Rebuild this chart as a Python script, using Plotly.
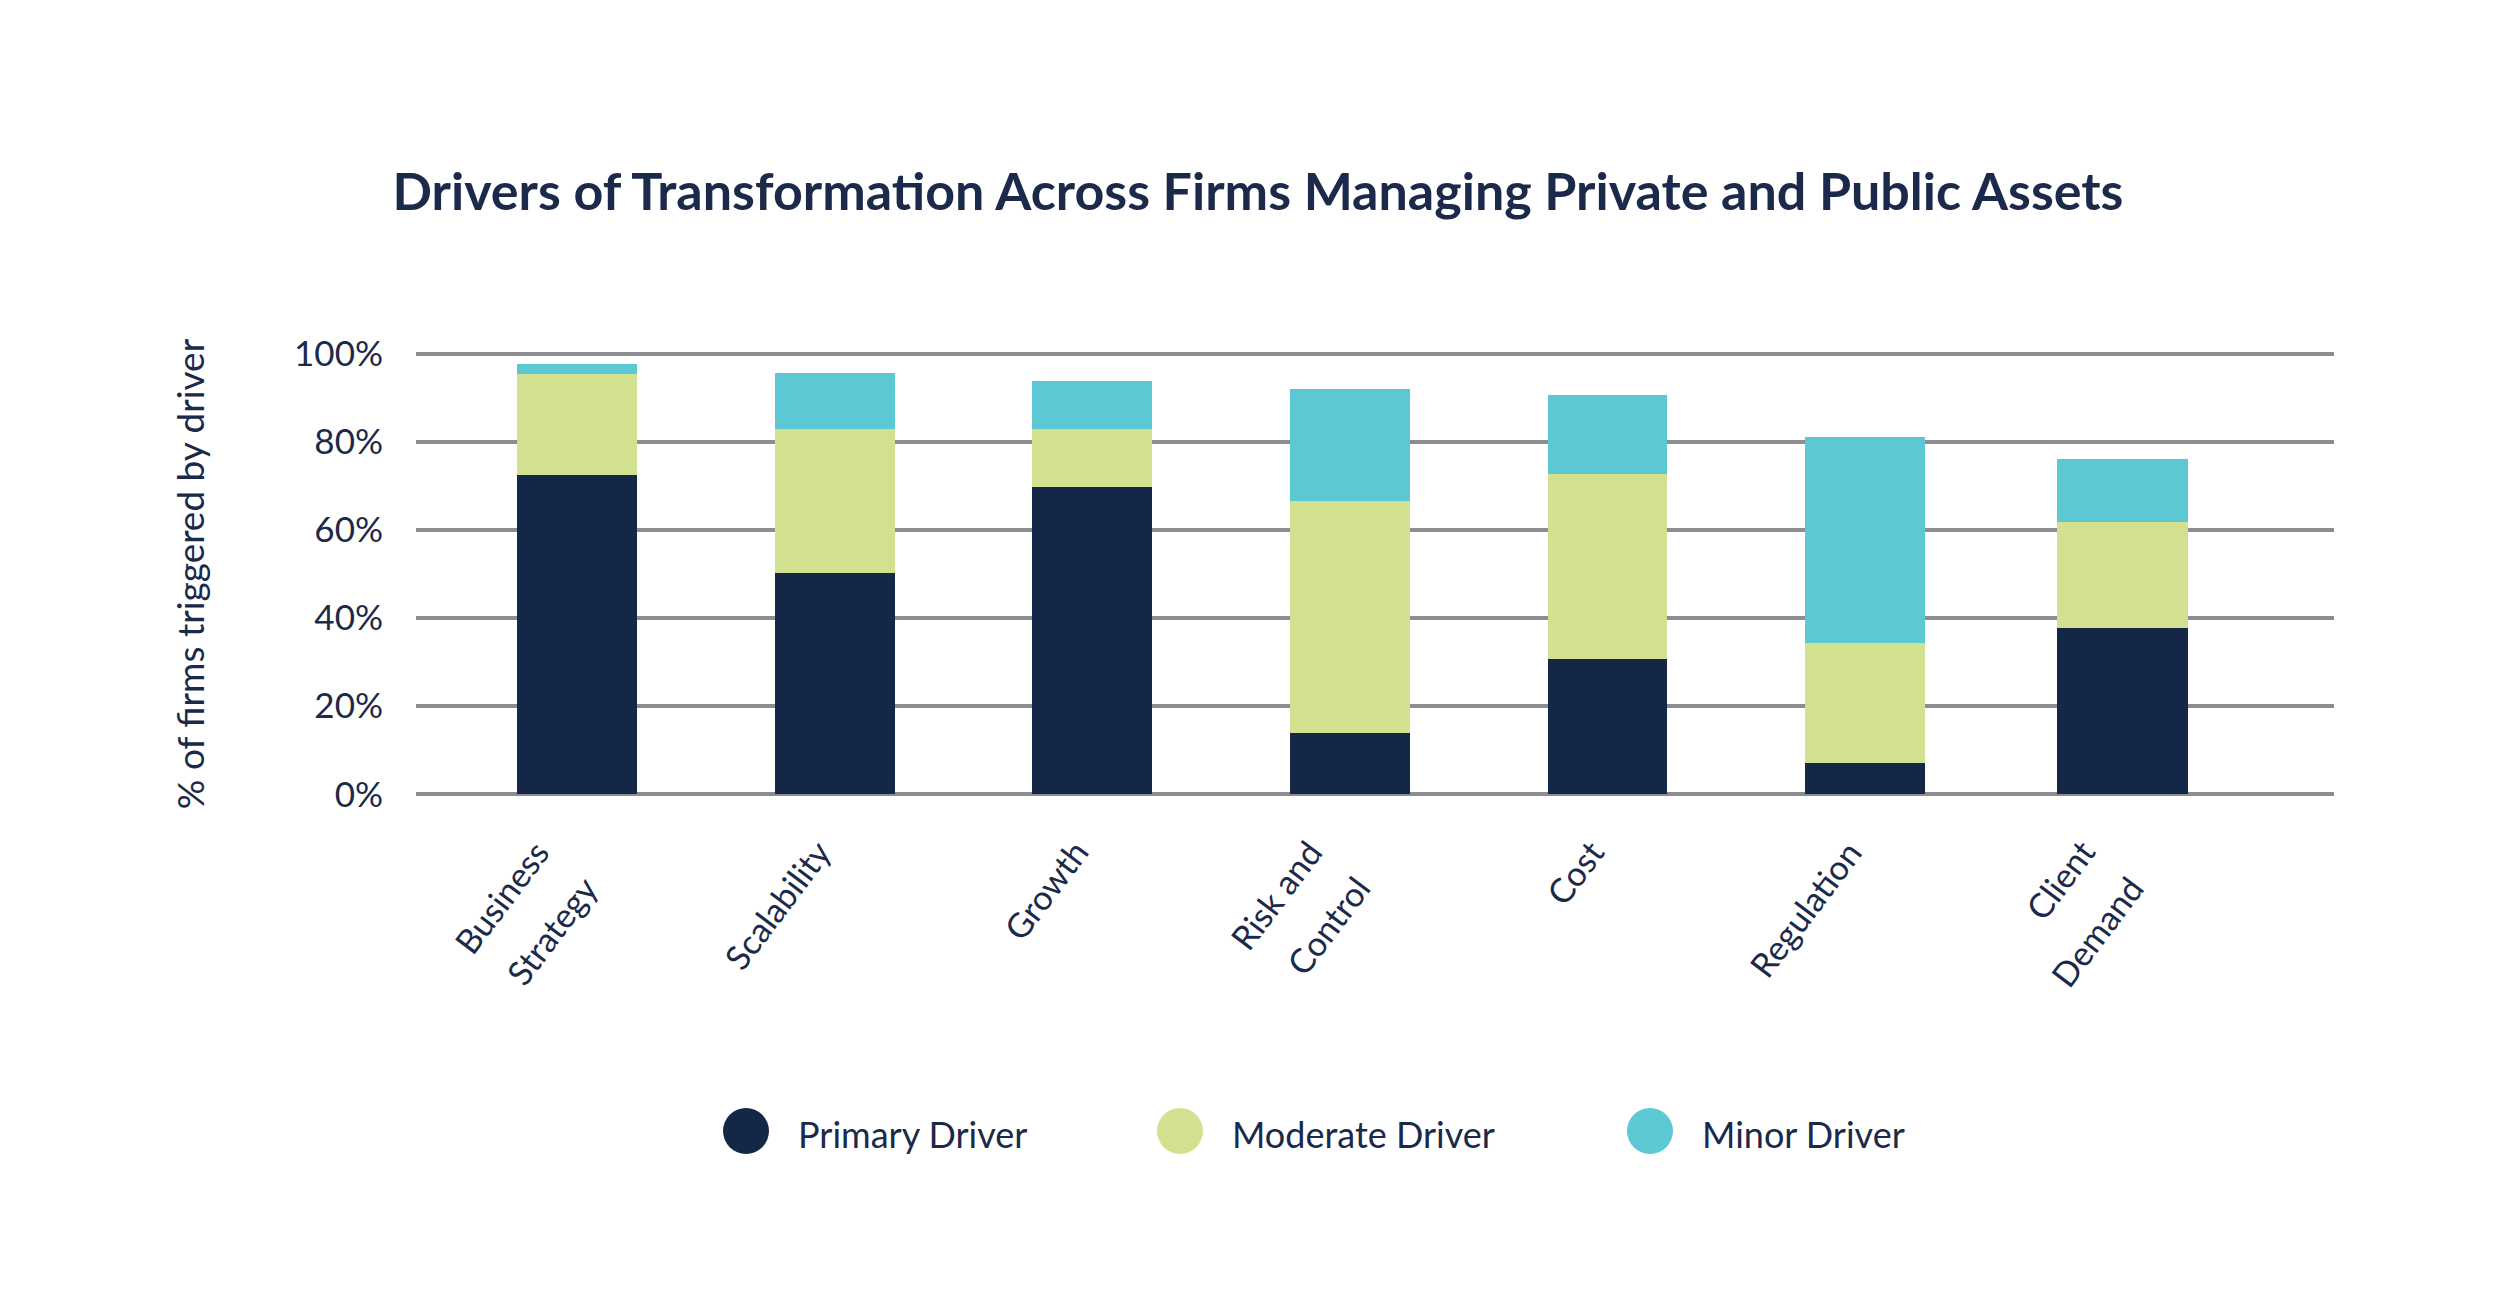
import math
import plotly.graph_objects as go

# ---- data ----
categories = ["Business\nStrategy", "Scalability", "Growth", "Risk and\nControl",
              "Cost", "Regulation", "Client\nDemand"]
primary_cum = [72.4, 50.2, 69.8, 14.0, 30.7, 7.0, 37.7]
moderate_cum = [95.4, 83.0, 83.0, 66.6, 72.8, 34.3, 61.7]
minor_cum = [97.7, 95.7, 93.9, 92.1, 90.7, 81.1, 76.1]

primary = primary_cum
moderate = [round(m - p, 1) for m, p in zip(moderate_cum, primary_cum)]
minor = [round(n - m, 1) for n, m in zip(minor_cum, moderate_cum)]

series_names = ["Primary Driver", "Moderate Driver", "Minor Driver"]
series_values = [primary, moderate, minor]
series_colors = ["#142747", "#d1e18f", "#5bc8d4"]

y_tickvals = [0, 20, 40, 60, 80, 100]
y_ticktext = ["0%", "20%", "40%", "60%", "80%", "100%"]

NAVY = "#1b2a4a"
GRID = "#8b8d92"
FONT = "Lato"

W, H = 2500, 1308
L, R, T, B = 408, 2326, 343, 789  # plot area in pixels
Y0_PX, Y100_PX = 786.3, 345.7
PPU = (Y0_PX - Y100_PX) / 100.0
ymin = -(B - Y0_PX) / PPU
ymax = 100 + (Y100_PX - T) / PPU

bar_widths = [0.465] * (len(categories) - 1) + [0.51]
xs = list(range(len(categories)))

fig = go.Figure()
for name, vals, col in zip(series_names, series_values, series_colors):
    fig.add_trace(go.Bar(
        x=xs, y=vals, name=name,
        marker=dict(color=col, line=dict(width=0)),
        width=bar_widths, showlegend=False,
    ))


def px_x(px):
    return (px - L) / (R - L)


def px_y(py):
    return (B - py) / (B - T)


shapes = []
annotations = []

# rotated category labels (one annotation per text line for line spacing control)
ANG = 53.0
LABEL_SIZE = 34
th = math.radians(ANG)
vx, vy = math.sin(th), math.cos(th)   # "down" direction of rotated glyphs (screen coords)
LINE_GAP = 60.0
for i, lab in enumerate(categories):
    lines = lab.split("\n")
    n = len(lines)
    base_dx, base_dy = (-3.0, 56.0) if n == 1 else (-3.0, 74.0)
    for k, line in enumerate(lines):
        off = (k - (n - 1) / 2.0) * LINE_GAP
        bx = base_dx + off * vx
        by = base_dy + off * vy
        # anchor point (rotated bbox top-right) from baseline end
        px = bx + 9.6
        py = by - 20.8
        annotations.append(dict(
            x=i, y=0, xref="x", yref="y", xshift=px, yshift=-py,
            text=line, showarrow=False, textangle=-ANG,
            xanchor="right", yanchor="top",
            font=dict(family=FONT, size=LABEL_SIZE, color=NAVY),
        ))

# legend drawn as circles + labels
leg_circle_x = [738, 1172, 1642]
leg_y = 1123
for cx, name, col in zip(leg_circle_x, series_names, series_colors):
    shapes.append(dict(type="circle", xref="paper", yref="paper",
                       xsizemode="pixel", ysizemode="pixel",
                       xanchor=px_x(cx), yanchor=px_y(leg_y),
                       x0=-23, x1=23, y0=-23, y1=23,
                       fillcolor=col, line=dict(width=0)))
    annotations.append(dict(xref="paper", yref="paper", x=px_x(cx + 50), y=px_y(leg_y + 3),
                            text=name, showarrow=False, xanchor="left", yanchor="middle",
                            font=dict(family=FONT, size=36, color=NAVY)))

fig.update_layout(
    width=W, height=H,
    barmode="stack",
    paper_bgcolor="white", plot_bgcolor="white",
    margin=dict(l=L, r=W - R, t=T, b=H - B, pad=0),
    title=dict(text="<b>Drivers of Transformation Across Firms Managing Private and Public Assets</b>",
               x=0.5, xref="container", xanchor="center",
               y=1 - 184 / H, yref="container", yanchor="middle",
               font=dict(family=FONT, size=52, color=NAVY)),
    xaxis=dict(
        tickmode="array", tickvals=xs, showticklabels=False,
        range=[-0.625, 6.82], showgrid=False, zeroline=False, showline=False, ticks="",
    ),
    yaxis=dict(
        range=[ymin, ymax], tickvals=y_tickvals, ticktext=y_ticktext,
        showgrid=True, gridcolor=GRID, gridwidth=4,
        zeroline=True, zerolinecolor=GRID, zerolinewidth=4,
        showline=False, ticks="", ticklabelstandoff=32,
        tickfont=dict(family=FONT, size=35, color=NAVY),
        title=dict(text="% of firms triggered by driver", standoff=78,
                   font=dict(family=FONT, size=37, color=NAVY)),
    ),
    shapes=shapes,
    annotations=annotations,
)

fig.write_html("out.html")
